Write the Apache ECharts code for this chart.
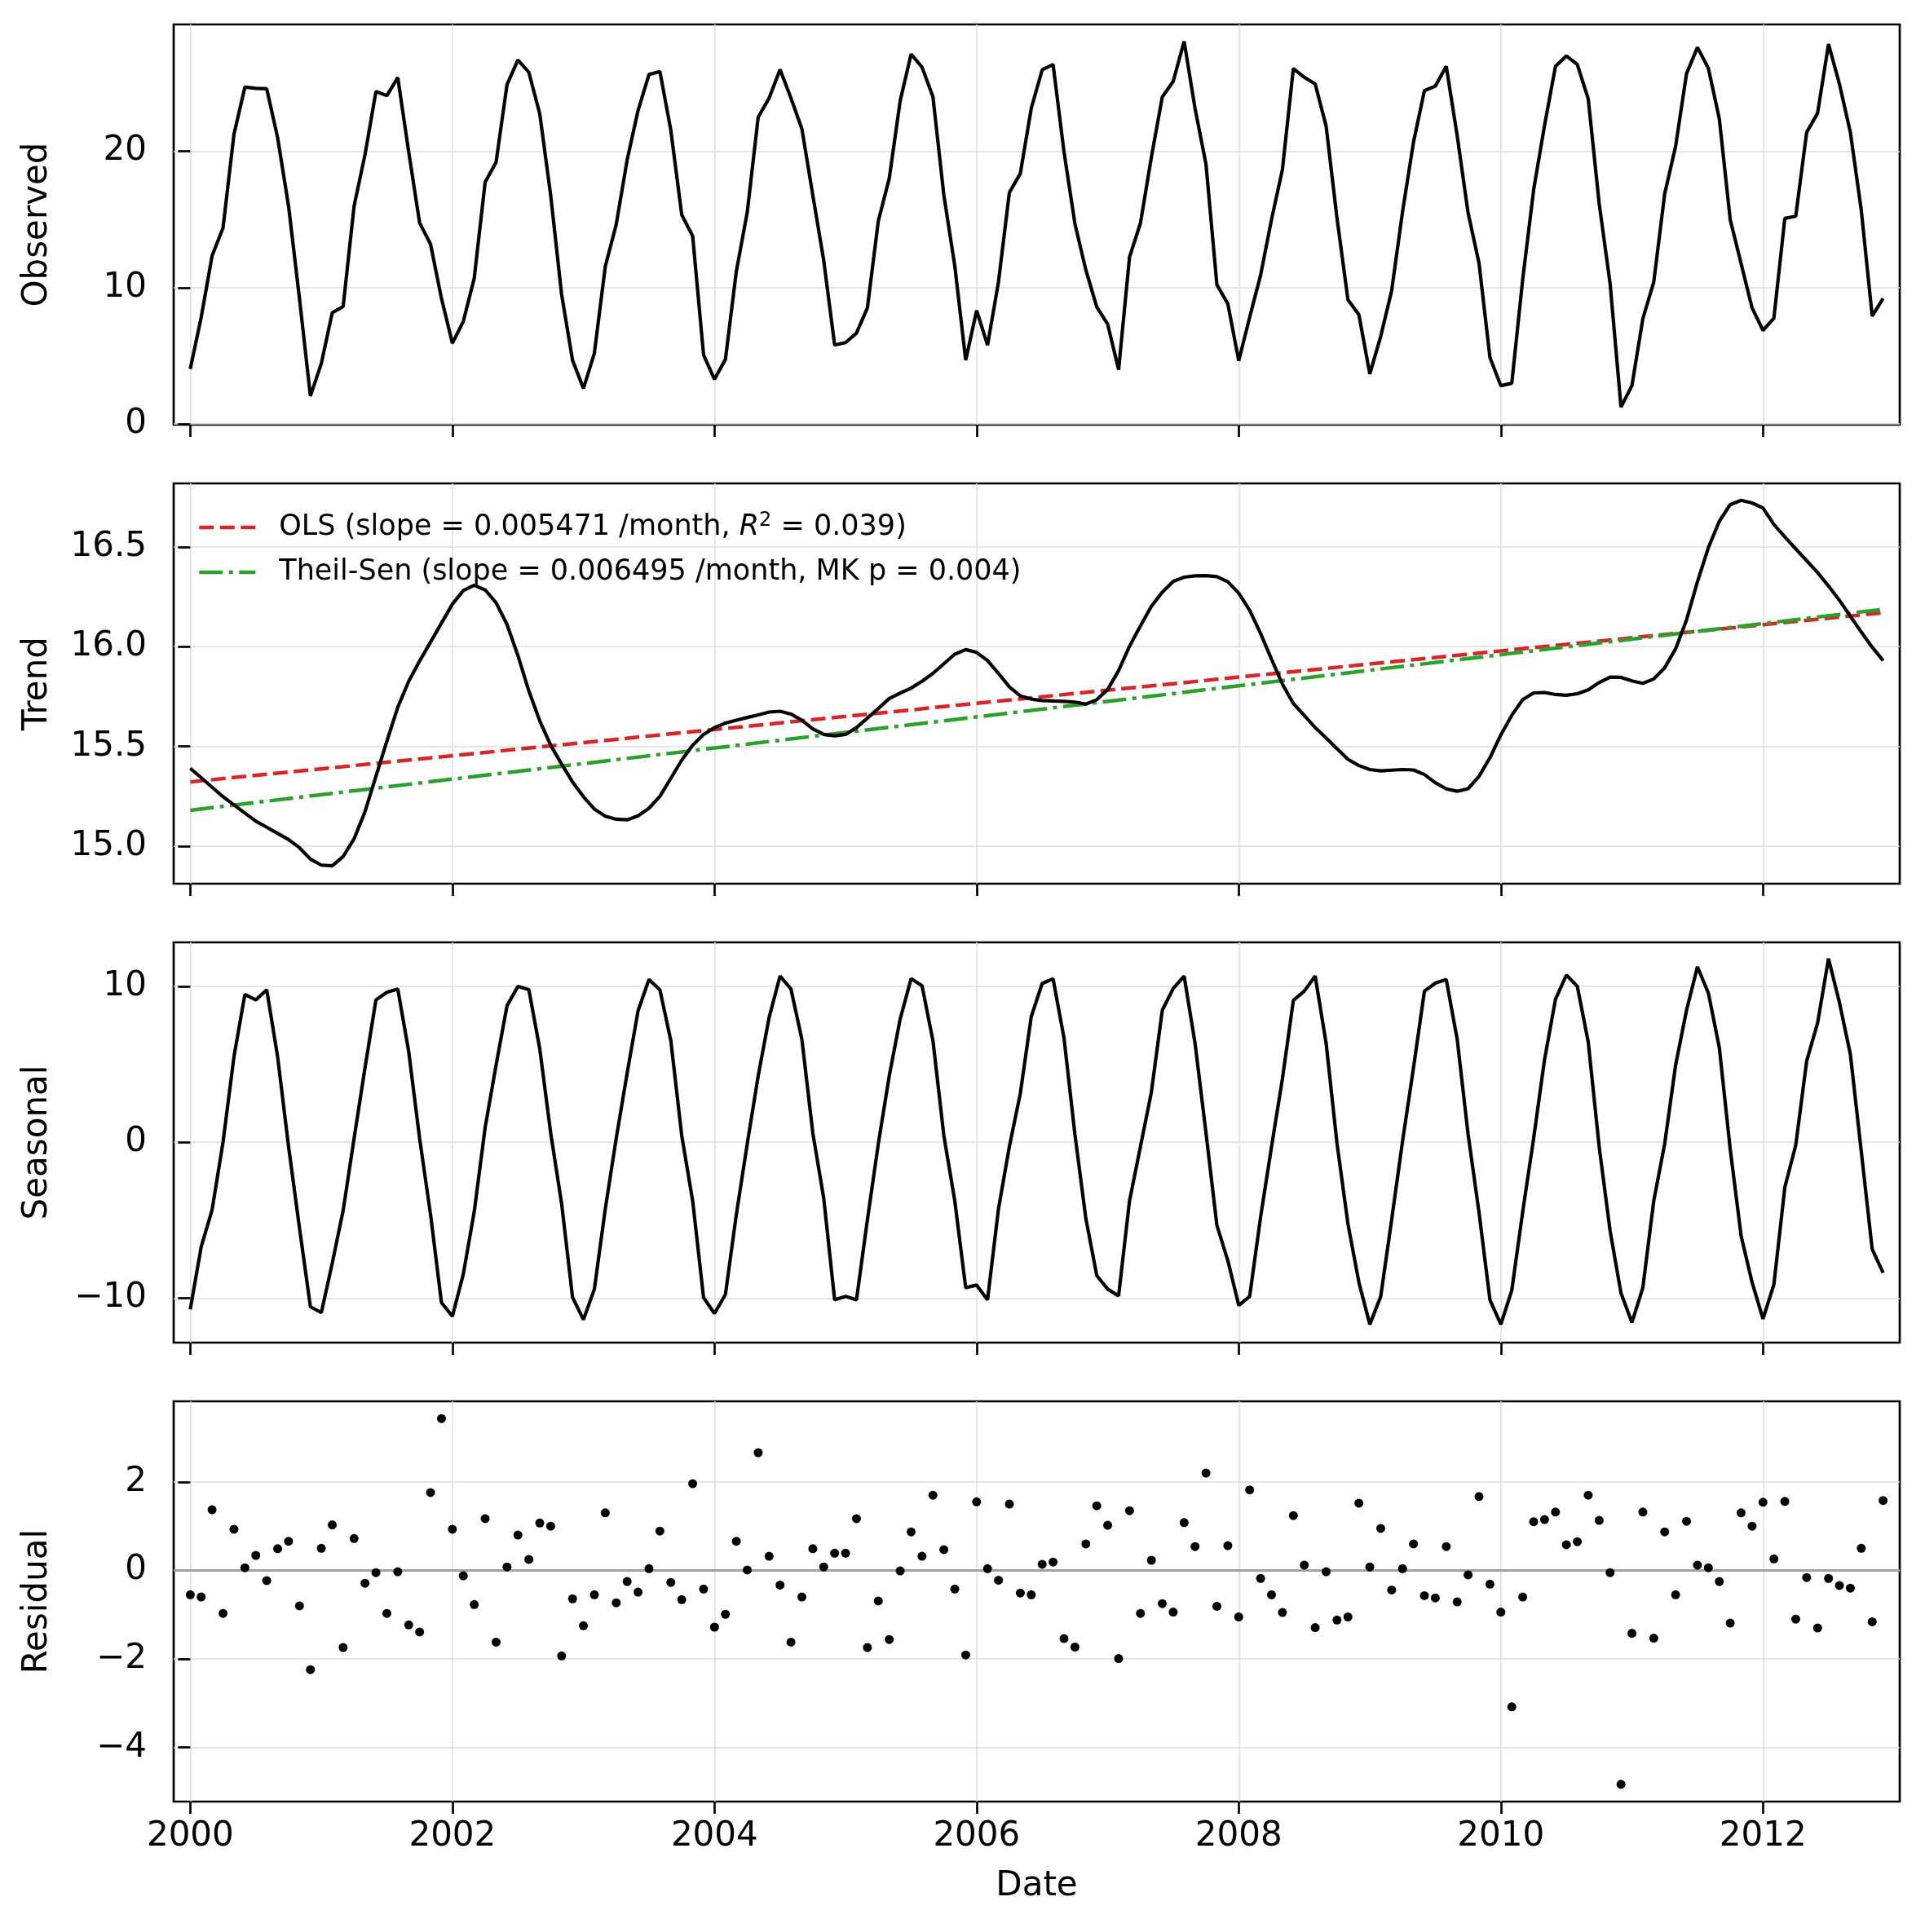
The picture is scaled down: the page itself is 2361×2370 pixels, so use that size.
<!DOCTYPE html>
<html>
<head>
<meta charset="utf-8">
<script src="https://cdn.jsdelivr.net/npm/echarts@6.0.0/dist/echarts.min.js"></script>
<style>
html,body{margin:0;padding:0;background:#fff;}
#chart{width:2361px;height:2370px;}
</style>
</head>
<body>
<div id="chart"></div>
<script>
// monthly series, Jan 2000 .. Dec 2012 (index = months since Jan 2000)
var startYear = 2000;
var tickYears = [2000, 2002, 2004, 2006, 2008, 2010, 2012];

var observed = [
  4.04, 7.82, 12.34, 14.39, 21.25, 24.70, 24.62, 24.58, 21.0, 15.98, 9.2, 2.05,
  4.44, 8.16, 8.62, 15.98, 19.76, 24.38, 24.08, 25.41, 19.96, 14.75, 13.19, 9.21,
  5.93, 7.52, 10.7, 17.73, 19.2, 24.88, 26.69, 25.79, 22.75, 16.78, 9.51, 4.68,
  2.61, 5.19, 11.56, 14.63, 19.36, 22.99, 25.63, 25.85, 21.55, 15.34, 13.79, 5.07,
  3.28, 4.74, 11.2, 15.54, 22.5, 23.9, 26.0, 23.9, 21.65, 16.78, 12.0, 5.79,
  5.97, 6.67, 8.52, 14.89, 18.01, 23.70, 27.12, 26.17, 24.0, 16.78, 11.6, 4.68,
  8.32, 5.79, 10.41, 16.98, 18.37, 23.14, 25.97, 26.37, 19.96, 14.69, 11.3, 8.58,
  7.32, 3.98, 12.24, 14.73, 19.56, 23.98, 25.13, 28.06, 23.14, 19.06, 10.21, 8.82,
  4.64, 7.82, 10.91, 14.99, 18.67, 26.07, 25.43, 24.94, 21.85, 15.08, 9.11, 8.02,
  3.68, 6.43, 9.77, 15.58, 20.66, 24.44, 24.78, 26.23, 21.15, 15.48, 11.8, 4.88,
  2.81, 2.99, 10.61, 17.17, 21.9, 26.23, 26.99, 26.37, 23.84, 16.18, 10.31, 1.25,
  2.81, 7.72, 10.41, 16.88, 20.36, 25.69, 27.62, 26.09, 22.39, 14.99, 11.76, 8.52,
  6.87, 7.76, 15.08, 15.24, 21.39, 22.79, 27.86, 24.94, 21.39, 15.68, 7.92, 9.21
];

var trend = [
  15.390, 15.343, 15.295, 15.248, 15.207, 15.166, 15.125, 15.095, 15.064, 15.033, 14.992, 14.935,
  14.905, 14.901, 14.948, 15.037, 15.173, 15.350, 15.526, 15.696, 15.826, 15.928, 16.023, 16.118,
  16.213, 16.281, 16.308, 16.284, 16.220, 16.111, 15.955, 15.778, 15.628, 15.506, 15.411, 15.322,
  15.248, 15.186, 15.150, 15.135, 15.132, 15.152, 15.190, 15.250, 15.340, 15.431, 15.506, 15.560,
  15.594, 15.617, 15.631, 15.645, 15.658, 15.672, 15.676, 15.662, 15.631, 15.588, 15.560, 15.553,
  15.560, 15.594, 15.642, 15.690, 15.740, 15.767, 15.792, 15.826, 15.866, 15.914, 15.962, 15.985,
  15.971, 15.930, 15.866, 15.798, 15.753, 15.737, 15.730, 15.728, 15.726, 15.722, 15.712, 15.734,
  15.785, 15.880, 16.002, 16.104, 16.202, 16.273, 16.327, 16.348, 16.355, 16.356, 16.351, 16.325,
  16.268, 16.182, 16.066, 15.937, 15.812, 15.715, 15.655, 15.594, 15.542, 15.488, 15.435, 15.404,
  15.384, 15.377, 15.381, 15.384, 15.382, 15.359, 15.318, 15.287, 15.275, 15.288, 15.350, 15.443,
  15.558, 15.656, 15.734, 15.768, 15.770, 15.760, 15.756, 15.764, 15.783, 15.820, 15.847, 15.846,
  15.828, 15.816, 15.838, 15.894, 15.989, 16.134, 16.325, 16.496, 16.628, 16.712, 16.733, 16.720,
  16.695, 16.612, 16.550, 16.490, 16.431, 16.371, 16.304, 16.232, 16.152, 16.073, 15.997, 15.930
];

// fitted lines, value at first and last month
var olsEnds = [15.322, 16.170];
var theilEnds = [15.180, 16.187];

var seasonal = [
  -10.72, -6.72, -4.33, 0.0, 5.47, 9.47, 9.12, 9.77, 5.47, -0.28, -5.5, -10.55,
  -10.93, -7.76, -4.37, 0.24, 4.77, 9.12, 9.61, 9.82, 5.81, 0.24, -4.63, -10.29,
  -11.16, -8.46, -4.46, 0.94, 4.94, 8.74, 9.99, 9.78, 5.99, 0.59, -3.93, -9.94,
  -11.38, -9.42, -4.28, 0.24, 4.42, 8.42, 10.43, 9.77, 6.51, 0.42, -3.76, -9.97,
  -10.98, -9.77, -4.63, -0.10, 4.25, 7.99, 10.65, 9.82, 6.60, 0.59, -3.59, -10.11,
  -9.89, -10.11, -4.98, -0.10, 4.25, 7.90, 10.48, 10.03, 6.51, 0.42, -3.76, -9.33,
  -9.16, -10.11, -4.28, -0.28, 3.12, 8.04, 10.17, 10.48, 6.68, 0.5, -4.89, -8.55,
  -9.42, -9.85, -3.76, -0.28, 3.2, 8.46, 9.85, 10.65, 6.34, 0.59, -5.33, -7.59,
  -10.46, -9.89, -4.8, -0.3, 4.07, 9.09, 9.68, 10.65, 6.34, -0.10, -5.24, -8.98,
  -11.68, -9.89, -4.98, 0.07, 4.77, 9.68, 10.2, 10.43, 6.6, 0.5, -4.5, -10.11,
  -11.68, -9.5, -4.46, 0.24, 5.29, 9.16, 10.72, 9.99, 6.42, -0.28, -5.67, -9.68,
  -11.56, -9.33, -3.76, -0.10, 4.94, 8.46, 11.24, 9.56, 6.07, -0.45, -6.02, -8.98,
  -11.33, -9.12, -2.89, -0.19, 5.2, 7.64, 11.77, 8.95, 5.64, -0.6, -6.86, -8.37
];

var residual = [
  -0.55, -0.60, 1.37, -0.97, 0.93, 0.06, 0.34, -0.23, 0.49, 0.66, -0.80, -2.24,
  0.50, 1.03, -1.74, 0.72, -0.29, -0.05, -0.97, -0.03, -1.23, -1.39, 1.76, 3.43,
  0.93, -0.12, -0.77, 1.17, -1.62, 0.08, 0.80, 0.25, 1.07, 1.00, -1.93, -0.64,
  -1.25, -0.55, 1.30, -0.73, -0.25, -0.49, 0.04, 0.89, -0.27, -0.66, 1.96, -0.42,
  -1.28, -0.99, 0.66, 0.01, 2.66, 0.32, -0.33, -1.62, -0.60, 0.49, 0.08, 0.39,
  0.39, 1.17, -1.74, -0.69, -1.56, -0.01, 0.87, 0.32, 1.70, 0.47, -0.42, -1.91,
  1.55, 0.04, -0.22, 1.50, -0.51, -0.55, 0.14, 0.19, -1.54, -1.73, 0.60, 1.46,
  1.02, -1.99, 1.35, -0.97, 0.23, -0.75, -0.94, 1.08, 0.54, 2.20, -0.81, 0.56,
  -1.05, 1.82, -0.18, -0.55, -0.95, 1.24, 0.12, -1.29, -0.03, -1.12, -1.05, 1.52,
  0.08, 0.95, -0.44, 0.04, 0.60, -0.57, -0.62, 0.54, -0.71, -0.10, 1.67, -0.31,
  -0.94, -3.08, -0.60, 1.10, 1.15, 1.32, 0.58, 0.65, 1.70, 1.13, -0.05, -4.83,
  -1.42, 1.32, -1.53, 0.87, -0.55, 1.11, 0.12, 0.06, -0.25, -1.19, 1.30, 1.00,
  1.54, 0.26, 1.56, -1.10, -0.16, -1.30, -0.18, -0.34, -0.40, 0.50, -1.16, 1.58
];

var obsTicks = [0, 10, 20];
var trendTicks = [15.0, 15.5, 16.0, 16.5];
var seasTicks = [-10, 0, 10];
var residTicks = [-4, -2, 0, 2];

var font = 'DejaVu Sans';
var last = observed.length - 1;
var tickMonths = tickYears.map(function (y) { return (y - startYear) * 12; });

function pairs(arr) {
  return arr.map(function (v, i) { return [i, v]; });
}
function minus(v) {
  return v < 0 ? '\u2212' + Math.abs(v) : String(v);
}

var tops = [30, 593, 1156, 1719];
var grids = tops.map(function (t) {
  return {left: 213, width: 2117, top: t, height: 491, show: true,
    borderColor: '#000', borderWidth: 2.7, containLabel: false};
});

function xAxisFor(i) {
  var bottom = i === 3;
  return {
    type: 'value', gridIndex: i, min: -1.52, max: last + 1.52,
    axisLine: {show: false, onZero: false},
    axisTick: {show: true, length: 15, lineStyle: {color: '#000', width: 2.7}, customValues: tickMonths},
    axisLabel: {show: bottom, customValues: tickMonths, margin: 22,
      fontFamily: font, fontSize: 42, color: '#000',
      formatter: function (v) { return String(startYear + Math.round(v / 12)); }},
    splitLine: {show: true, lineStyle: {color: '#dddddd', width: 1.5}},
    name: bottom ? 'Date' : '', nameLocation: 'middle', nameGap: 83,
    nameTextStyle: {fontFamily: font, fontSize: 42, color: '#000'}
  };
}

function yAxisFor(i, name, min, max, ticks, fmt) {
  return {
    type: 'value', gridIndex: i, min: min, max: max,
    axisLine: {show: false},
    axisTick: {show: true, length: 15, lineStyle: {color: '#000', width: 2.7}, customValues: ticks},
    axisLabel: {customValues: ticks, margin: 33, fontFamily: font, fontSize: 42, color: '#000', formatter: fmt},
    splitLine: {show: true, lineStyle: {color: '#dddddd', width: 1.5}},
    name: name, nameLocation: 'middle', nameRotate: 90, nameGap: 146,
    nameTextStyle: {fontFamily: font, fontSize: 42, color: '#000'}
  };
}

var chart = echarts.init(document.getElementById('chart'), null, {renderer: 'canvas'});

var legendNames = {
  ols: '{n|OLS (slope = 0.005471 /month, }{i|R}{s|2}{n| = 0.039)}',
  theil: '{n|Theil-Sen (slope = 0.006495 /month, MK p = 0.004)}'
};

chart.setOption({
  animation: false,
  backgroundColor: '#fff',
  grid: grids,
  xAxis: [0, 1, 2, 3].map(xAxisFor),
  yAxis: [
    yAxisFor(0, 'Observed', -0.05, 29.3, obsTicks, minus),
    yAxisFor(1, 'Trend', 14.812, 16.818, trendTicks, function (v) { return v.toFixed(1); }),
    yAxisFor(2, 'Seasonal', -12.85, 12.81, seasTicks, minus),
    yAxisFor(3, 'Residual', -5.22, 3.82, residTicks, minus)
  ],
  legend: {
    orient: 'vertical', left: 237, top: 622, selectedMode: false,
    itemWidth: 69, itemHeight: 14, itemGap: 20,
    itemStyle: {opacity: 0},
    lineStyle: {width: 4.5},
    data: ['ols', 'theil'],
    formatter: function (name) { return legendNames[name]; },
    textStyle: {
      fontFamily: font, fontSize: 35, color: '#000', padding: [0, 0, 0, 24],
      rich: {
        n: {fontFamily: font, fontSize: 35, color: '#000'},
        i: {fontFamily: font, fontSize: 35, fontStyle: 'italic', color: '#000'},
        s: {fontFamily: font, fontSize: 24, color: '#000', verticalAlign: 'top', padding: [0, 0, 16, 0]}
      }
    }
  },
  series: [
    {type: 'line', name: 'observed', xAxisIndex: 0, yAxisIndex: 0, data: pairs(observed),
      symbol: 'none', lineStyle: {color: '#000', width: 4.2}},
    {type: 'line', name: 'ols', xAxisIndex: 1, yAxisIndex: 1, z: 3,
      data: [[0, olsEnds[0]], [last, olsEnds[1]]],
      symbol: 'none', itemStyle: {color: '#d62728'},
      lineStyle: {color: '#d62728', width: 4.5, type: [18, 7.5]}},
    {type: 'line', name: 'theil', xAxisIndex: 1, yAxisIndex: 1, z: 3,
      data: [[0, theilEnds[0]], [last, theilEnds[1]]],
      symbol: 'none', itemStyle: {color: '#2ca02c'},
      lineStyle: {color: '#2ca02c', width: 4.5, type: [29, 7.5, 5, 7.5]}},
    {type: 'line', name: 'trend', xAxisIndex: 1, yAxisIndex: 1, z: 4, data: pairs(trend),
      symbol: 'none', lineStyle: {color: '#000', width: 4.2}},
    {type: 'line', name: 'seasonal', xAxisIndex: 2, yAxisIndex: 2, data: pairs(seasonal),
      symbol: 'none', lineStyle: {color: '#000', width: 4.2}},
    {type: 'line', name: 'zero', xAxisIndex: 3, yAxisIndex: 3, data: [], z: 1,
      markLine: {silent: true, symbol: 'none', label: {show: false}, animation: false,
        lineStyle: {color: '#a0a0a0', width: 3, type: 'solid'}, data: [{yAxis: 0}]}},
    {type: 'scatter', name: 'residual', xAxisIndex: 3, yAxisIndex: 3, z: 5, data: pairs(residual),
      symbol: 'circle', symbolSize: 11, itemStyle: {color: '#000', opacity: 1}}
  ]
});
</script>
</body>
</html>
